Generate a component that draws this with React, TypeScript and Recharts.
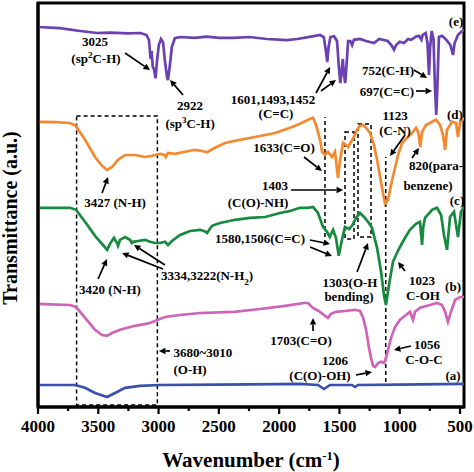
import React from 'react';
import { LineChart, Line, XAxis, YAxis, ReferenceLine, ReferenceArea, ReferenceDot } from 'recharts';

type P = [number, number];

// ---------- data: [wavenumber (cm-1), transmittance (a.u., offset curves)] ----------
const seriesE: P[] = [
  [4000, 95.0], [3820, 94.7], [3650, 94.0], [3510, 93.5], [3400, 93.6], [3250, 93.4], [3150, 93.5], [3100, 93.0],
  [3080, 91.8], [3066, 87.0], [3058, 89.0], [3048, 85.0], [3038, 84.5], [3025, 82.2], [3013, 86.5], [2998, 90.5],
  [2980, 92.0], [2963, 91.2], [2947, 86.5], [2930, 82.5], [2922, 81.7], [2908, 85.0], [2890, 90.0], [2865, 92.2],
  [2820, 92.5], [2700, 92.3], [2600, 92.6], [2500, 92.3], [2374, 92.3], [2250, 92.5], [2100, 92.0], [1935, 91.7],
  [1850, 92.0], [1736, 92.6], [1661, 93.0], [1630, 92.5], [1612, 89.0], [1601, 86.2], [1590, 90.0], [1575, 92.5],
  [1545, 92.7], [1520, 91.5], [1505, 85.0], [1493, 81.0], [1482, 84.0], [1472, 87.0], [1462, 83.0], [1452, 81.0],
  [1440, 86.0], [1428, 91.5], [1410, 91.5], [1395, 90.5], [1380, 91.8], [1330, 92.0], [1280, 91.5], [1213, 91.0],
  [1170, 92.0], [1100, 91.5], [1070, 90.5], [1047, 89.3], [1030, 90.5], [1000, 91.3], [965, 91.0], [930, 92.0],
  [906, 91.8], [865, 92.6], [840, 92.8], [820, 91.8], [810, 93.0], [785, 93.5], [770, 91.0], [757, 83.0],
  [748, 90.0], [735, 94.0], [720, 92.0], [708, 80.0], [697, 73.0], [688, 80.0], [675, 92.5], [650, 92.8],
  [620, 92.0], [580, 90.5], [558, 88.0], [545, 91.0], [517, 93.0], [490, 93.8], [467, 94.3],
];

const seriesD: P[] = [
  [4000, 71.3], [3850, 71.2], [3735, 71.0], [3690, 70.4], [3610, 66.8], [3527, 62.5], [3469, 60.3], [3427, 59.3],
  [3386, 60.0], [3336, 61.8], [3278, 63.0], [3196, 63.0], [3113, 62.5], [3054, 62.8], [2988, 63.3], [2950, 63.0],
  [2940, 62.5], [2922, 63.5], [2864, 63.3], [2781, 63.8], [2698, 64.3], [2640, 64.0], [2598, 63.7], [2532, 64.8],
  [2449, 66.0], [2325, 66.8], [2200, 67.5], [2034, 68.5], [1910, 69.8], [1827, 70.8], [1761, 71.8], [1719, 72.3],
  [1694, 70.5], [1661, 66.8], [1644, 63.8], [1620, 63.0], [1595, 63.8], [1562, 62.5], [1537, 63.8], [1512, 57.3],
  [1495, 61.8], [1470, 66.0], [1445, 65.5], [1429, 65.0], [1404, 66.3], [1379, 67.5], [1354, 69.3], [1329, 70.3],
  [1304, 70.5], [1279, 69.8], [1246, 68.5], [1213, 65.5], [1180, 60.5], [1147, 54.8], [1122, 50.8], [1097, 51.8],
  [1072, 55.5], [1047, 58.8], [1014, 63.0], [981, 66.0], [939, 67.3], [898, 68.5], [865, 69.8], [845, 68.5],
  [830, 65.0], [815, 68.8], [782, 70.5], [732, 71.3], [699, 71.8], [666, 70.5], [641, 68.0], [624, 64.3],
  [608, 69.3], [566, 71.3], [533, 71.0], [517, 67.5], [500, 71.0], [467, 72.3],
];

const seriesC: P[] = [
  [4000, 49.8], [3850, 49.8], [3735, 49.8], [3685, 49.3], [3610, 46.3], [3527, 42.8], [3461, 40.5], [3427, 39.3],
  [3403, 40.8], [3370, 42.3], [3345, 41.0], [3336, 40.3], [3320, 41.8], [3278, 42.5], [3237, 41.8], [3222, 41.0],
  [3212, 41.3], [3171, 41.5], [3113, 41.8], [3071, 41.3], [3030, 41.0], [2988, 41.0], [2947, 41.3], [2922, 40.5],
  [2889, 41.5], [2822, 43.0], [2739, 44.0], [2656, 44.3], [2610, 43.8], [2598, 43.5], [2557, 45.3], [2491, 46.0],
  [2366, 46.8], [2242, 47.3], [2117, 47.5], [1993, 48.5], [1910, 49.0], [1827, 49.8], [1761, 49.8], [1719, 50.0],
  [1678, 48.5], [1636, 45.0], [1603, 43.8], [1580, 42.5], [1553, 44.3], [1529, 42.3], [1506, 37.8], [1479, 41.8],
  [1454, 45.0], [1420, 44.5], [1396, 45.3], [1362, 47.3], [1329, 48.5], [1296, 47.5], [1263, 46.3], [1230, 44.8],
  [1188, 39.8], [1155, 33.8], [1130, 27.8], [1114, 25.5], [1089, 30.5], [1056, 36.3], [1031, 38.0], [998, 40.0],
  [956, 42.3], [915, 44.3], [865, 45.8], [832, 46.3], [822, 43.0], [815, 40.5], [805, 45.0], [790, 47.3],
  [732, 49.3], [691, 49.8], [657, 48.0], [633, 43.0], [608, 39.3], [583, 47.5], [550, 48.8], [517, 42.5],
  [492, 48.8], [467, 50.0],
];

const seriesB: P[] = [
  [4000, 25.8], [3850, 25.6], [3735, 25.5], [3685, 25.0], [3610, 22.3], [3527, 19.3], [3469, 18.0], [3427, 17.8],
  [3386, 18.5], [3320, 19.3], [3196, 20.3], [3071, 21.0], [3005, 21.8], [2947, 22.5], [2822, 23.0], [2656, 23.5],
  [2374, 23.8], [2159, 24.5], [1951, 25.3], [1794, 26.0], [1761, 26.0], [1728, 25.0], [1703, 24.5], [1661, 23.8],
  [1620, 22.8], [1595, 22.3], [1570, 23.3], [1529, 23.8], [1454, 24.0], [1371, 24.3], [1329, 24.0], [1304, 22.3],
  [1279, 19.3], [1255, 14.8], [1238, 12.3], [1221, 10.3], [1205, 10.0], [1180, 11.0], [1155, 11.3], [1130, 11.0],
  [1114, 12.3], [1097, 14.3], [1072, 17.3], [1039, 20.0], [998, 21.8], [948, 23.0], [915, 23.8], [890, 21.8],
  [873, 23.8], [832, 24.8], [749, 25.5], [691, 26.0], [649, 25.5], [624, 23.8], [600, 21.3], [575, 23.8],
  [541, 26.8], [500, 27.5], [467, 27.5],
];

const seriesA: P[] = [
  [4000, 5.5], [3800, 5.5], [3693, 5.5], [3610, 4.8], [3527, 3.5], [3427, 2.5], [3361, 3.5], [3278, 4.8],
  [3154, 5.3], [2988, 5.5], [2500, 5.6], [2000, 5.7], [1827, 5.8], [1678, 5.5], [1628, 4.5], [1578, 5.5],
  [1396, 5.5], [1371, 5.0], [1346, 5.5], [1000, 5.6], [467, 5.8],
];

const majorTicks = [4000, 3500, 3000, 2500, 2000, 1500, 1000, 500];
const minorTicks = [3750, 3250, 2750, 2250, 1750, 1250, 750];

// annotation texts: [text, wavenumber, transmittance]
const labelTexts: [string, number, number][] = [
  ['3025', 3527, 91.4], ['(sp^2C-H)', 3519, 87.2],
  ['2922', 2739, 75.3], ['(sp^3C-H)', 2739, 71.0],
  ['1601,1493,1452', 2051, 77], ['(C=C)', 2026, 73.5],
  ['752(C-H)', 1097, 84.25], ['697(C=C)', 1106, 79],
  ['(e)', 533, 96.5], ['(d)', 542, 73.25], ['(c)', 525, 51.6], ['(b)', 558, 30.25], ['(a)', 558, 8],
  ['1123', 1039, 73], ['(C-N)', 1039, 69.25],
  ['1633(C=O)', 1960, 65],
  ['1403', 2034, 55.5], ['(C(O)-NH)', 2175, 51.25],
  ['820(para-', 699, 60.4], ['benzene)', 766, 55.4],
  ['1580,1506(C=C)', 2159, 42.25],
  ['3420 (N-H)', 3403, 29.5],
  ['3334,3222(N-H_2)', 2598, 33],
  ['3427 (N-H)', 3361, 51.25],
  ['1303(O-H', 1412, 31.25], ['bending)', 1421, 27.75],
  ['1023', 815, 31.75], ['C-OH', 807, 28],
  ['1703(C=O)', 1819, 16.75],
  ['1206', 1537, 11.75], ['(C(O)-OH)', 1661, 8],
  ['1056', 774, 15.75], ['C-O-C', 799, 12],
  ['3680~3010', 2632, 13.75], ['(O-H)', 2739, 9.5],
];

// arrows: [fromW, fromT, toW, toT]
const arrows: [number, number, number, number][] = [
  [3278, 88.5, 3071, 84.25],
  [2797, 78, 2905, 81.75],
  [1694, 78.5, 1578, 85],
  [1653, 79, 1529, 81.75],
  [882, 84.25, 774, 82.25],
  [865, 79, 732, 79],
  [956, 68, 1081, 62.75],
  [1794, 62.5, 1645, 59],
  [1902, 54.25, 1470, 54.25],
  [898, 62.25, 840, 64.75],
  [1744, 41.75, 1578, 40.75],
  [1744, 40, 1562, 37.75],
  [3502, 32, 3428, 37],
  [2963, 34.5, 3303, 38.5],
  [2947, 35.5, 3204, 40.5],
  [3469, 53.5, 3419, 57.5],
  [1354, 33.75, 1263, 41],
  [956, 34, 1014, 36.25],
  [1719, 19, 1719, 22.25],
  [1363, 8, 1230, 8.75],
  [907, 15.25, 1048, 14.25],
  [2905, 14, 2997, 14],
];

// dashed boxes: [w1, w2, t1, t2]
const dashedBoxes: [number, number, number, number][] = [
  [3680, 3010, 0.5, 72.75],
  [1454, 1379, 42, 68.75],
  [1346, 1238, 42.5, 70.75],
];
// dashed vertical lines: [w, t1, t2]
const dashedLines: [number, number, number][] = [
  [1620, 42.5, 72.5],
  [1116, 6.25, 62.5],
];

const SERIF = "'Liberation Serif', 'Times New Roman', serif";
const rows = (pts: P[]) => pts.map(([w, t]) => ({ w, t }));

const renderRich = (s: string) =>
  s.split(/(\^.|_.)/).filter(Boolean).map((part, i) => {
    if (part[0] === '^') return <tspan key={i} baselineShift="super" fontSize="70%">{part[1]}</tspan>;
    if (part[0] === '_') return <tspan key={i} baselineShift="sub" fontSize="70%">{part[1]}</tspan>;
    return <tspan key={i}>{part}</tspan>;
  });

const ArrowShape = (p: any) => {
  const { x1, y1, x2, y2 } = p;
  const dx = x2 - x1;
  const dy = y2 - y1;
  const len = Math.hypot(dx, dy) || 1;
  const ux = dx / len;
  const uy = dy / len;
  const hl = 6.5;
  const hw = 3.2;
  const bx = x2 - ux * hl;
  const by = y2 - uy * hl;
  return (
    <g>
      <line x1={x1} y1={y1} x2={bx} y2={by} stroke="#000" strokeWidth={1.7} />
      <polygon points={`${x2},${y2} ${bx - uy * hw},${by + ux * hw} ${bx + uy * hw},${by - ux * hw}`} fill="#000" />
    </g>
  );
};

const XTick = (props: any) => {
  const { x, y, payload } = props;
  const major = majorTicks.includes(payload.value);
  return (
    <g>
      <line x1={x} y1={y} x2={x} y2={y + (major ? 7 : 4)} stroke="#000" strokeWidth={2.2} />
      {major && (
        <text x={x} y={y + 25} textAnchor="middle" fontSize={17} fontWeight="bold" fontFamily={SERIF} fill="#000">
          {payload.value}
        </text>
      )}
    </g>
  );
};

const XLabel = (props: any) => {
  const vb = props.viewBox || { x: 38, y: 407, width: 426 };
  return (
    <text x={vb.x + vb.width / 2} y={vb.y + 60} textAnchor="middle" fontSize={21} fontWeight="bold" fontFamily={SERIF} fill="#000">
      Wavenumber (cm<tspan baselineShift="super" fontSize="60%">-1</tspan>)
    </text>
  );
};

const YLabel = (props: any) => {
  const vb = props.viewBox || { x: 0, y: 3, width: 38, height: 404 };
  const cx = vb.x + 10;
  const cy = vb.y + 215;
  return (
    <text transform={`translate(${cx},${cy}) rotate(-90)`} textAnchor="middle" dy="0.35em" fontSize={20} fontWeight="bold" fontFamily={SERIF} fill="#000">
      Transmittance (a.u.)
    </text>
  );
};

const makeLabel = (text: string) => (p: any) => (
  <text x={p.cx} y={p.cy} dy="0.35em" textAnchor="middle" fontSize={13} fontWeight="bold" fontFamily={SERIF} fill="#000">
    {renderRich(text)}
  </text>
);

export default function App() {
  return (
    <div style={{ position: 'absolute', left: 0, top: 0, width: 474, height: 472, background: '#fff' }}>
      <LineChart width={474} height={472} margin={{ top: 3, right: 10, bottom: 0, left: 0 }}>
        <XAxis
          dataKey="w"
          type="number"
          domain={[467, 4000]}
          reversed
          allowDataOverflow
          ticks={[...majorTicks, ...minorTicks]}
          interval={0}
          tickSize={0}
          tickMargin={0}
          tickLine={false}
          tick={<XTick />}
          height={65}
          axisLine={{ stroke: '#000', strokeWidth: 3 }}
          label={<XLabel />}
        />
        <YAxis
          type="number"
          domain={[0, 101]}
          allowDataOverflow
          width={38}
          tick={false}
          tickLine={false}
          axisLine={{ stroke: '#000', strokeWidth: 3 }}
          label={<YLabel />}
        />
        <ReferenceArea x1={467} x2={4000} y1={0} y2={101} fill="none" stroke="#000" strokeWidth={3} ifOverflow="visible" />
        {dashedBoxes.map(([w1, w2, t1, t2], i) => (
          <ReferenceArea key={`b${i}`} x1={w1} x2={w2} y1={t1} y2={t2} fill="none" fillOpacity={0} stroke="#000" strokeWidth={1.5} strokeDasharray="4 3" ifOverflow="visible" />
        ))}
        {dashedLines.map(([w, t1, t2], i) => (
          <ReferenceLine key={`l${i}`} segment={[{ x: w, y: t1 }, { x: w, y: t2 }]} stroke="#000" strokeWidth={1.5} strokeDasharray="4 3" ifOverflow="visible" />
        ))}
        <Line data={rows(seriesA)} dataKey="t" type="linear" stroke="#3a4fb0" strokeWidth={2.7} dot={false} isAnimationActive={false} />
        <Line data={rows(seriesB)} dataKey="t" type="linear" stroke="#d062b8" strokeWidth={2.7} dot={false} isAnimationActive={false} />
        <Line data={rows(seriesC)} dataKey="t" type="linear" stroke="#168a3e" strokeWidth={2.7} dot={false} isAnimationActive={false} />
        <Line data={rows(seriesD)} dataKey="t" type="linear" stroke="#f5892f" strokeWidth={2.7} dot={false} isAnimationActive={false} />
        <Line data={rows(seriesE)} dataKey="t" type="linear" stroke="#6a40b2" strokeWidth={2.7} dot={false} isAnimationActive={false} />
        {arrows.map(([w1, t1, w2, t2], i) => (
          <ReferenceLine key={`a${i}`} segment={[{ x: w1, y: t1 }, { x: w2, y: t2 }]} shape={ArrowShape} ifOverflow="visible" />
        ))}
        {labelTexts.map(([text, w, t], i) => (
          <ReferenceDot key={`t${i}`} x={w} y={t} r={0} shape={makeLabel(text)} ifOverflow="visible" />
        ))}
      </LineChart>
    </div>
  );
}
